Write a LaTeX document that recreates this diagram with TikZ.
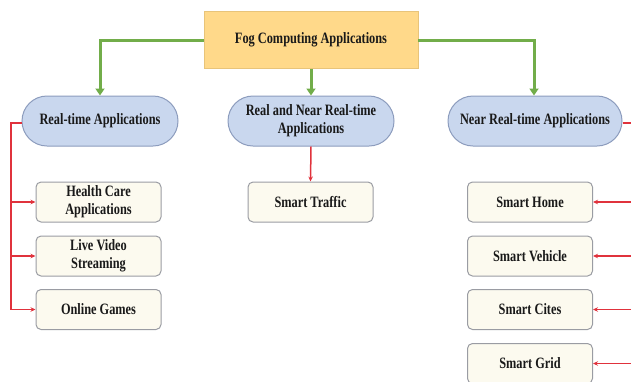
\documentclass[tikz,border=0pt]{standalone}
\usepackage{fontspec}
\setmainfont[FakeStretch=0.78]{Liberation Serif}
\usetikzlibrary{arrows.meta,shapes.misc}
\definecolor{topfill}{HTML}{FFD98A}
\definecolor{topdraw}{HTML}{E8C47A}
\definecolor{midfill}{HTML}{C9D7EE}
\definecolor{middraw}{HTML}{8C9CBD}
\definecolor{leaffill}{HTML}{FCFAEF}
\definecolor{leafdraw}{HTML}{9A9CA3}
\definecolor{gline}{HTML}{72AD4A}
\definecolor{rline}{HTML}{E0323C}
\tikzset{
  lbl/.style={font=\fontsize{15.8}{18}\selectfont\bfseries, align=center, text=black!90, inner sep=0pt},
  topbox/.style={lbl, draw=topdraw, fill=topfill, line width=0.8pt, minimum width=214pt, minimum height=57pt},
  midbox/.style={lbl, draw=middraw, fill=midfill, line width=1pt, rounded rectangle, minimum height=50pt},
  leafbox/.style={lbl, draw=leafdraw, fill=leaffill, line width=1pt, rounded corners=5pt, minimum width=125pt, minimum height=40pt},
  garrow/.style={draw=gline, line width=3pt, -{Triangle[length=7pt,width=9pt]}},
  rarrow/.style={draw=rline, line width=1.5pt, -{Stealth[length=5pt,width=4.5pt]}},
  rline/.style={draw=rline, line width=1.5pt},
}
\begin{document}
\begin{tikzpicture}[x=1pt,y=-1pt]
\useasboundingbox (0,0) rectangle (631,381);
\clip (0,0) rectangle (631,381);
\node[topbox] (top) at (311,40) {Fog Computing Applications};
\node[midbox, minimum width=156pt] (rt) at (100,121) {Real-time Applications};
\node[midbox, minimum width=166pt] (rnrt) at (311,121) {Real and Near Real-time\\Applications};
\node[midbox, minimum width=174pt] (nrt) at (535,121) {Near Real-time Applications};

\node[leafbox] (hc) at (98.5,202) {Health Care\\Applications};
\node[leafbox] (lv) at (98.5,256) {Live Video\\Streaming};
\node[leafbox] (og) at (98.5,309.5) {Online Games};
\node[leafbox] (st) at (310.5,202) {Smart Traffic};
\node[leafbox] (sh) at (530,202) {Smart Home};
\node[leafbox] (sv) at (530,256) {Smart Vehicle};
\node[leafbox] (sc) at (530,309.5) {Smart Cites};
\node[leafbox] (sg) at (530,363.5) {Smart Grid};

\coordinate (gl) at (100,40);
\coordinate (gr) at (534,40);
\draw[garrow] (top.west |- gl) -- (gl) -- (rt.north -| gl);
\draw[garrow] (top.south) -- (rnrt.north);
\draw[garrow] (top.east |- gr) -- (gr) -- (nrt.north -| gr);

\coordinate (lv0) at (11,123);
\draw[rline] (rt.west |- lv0) -- (lv0) -- (11 ,309.5);
\draw[rarrow] (11,202) -- (hc.west);
\draw[rarrow] (11,256) -- (lv.west);
\draw[rarrow] (11,309.5) -- (og.west);
\draw[rarrow] (rnrt.south) -- (st.north);

\coordinate (rv0) at (645,123);
\draw[rline] (nrt.east |- rv0) -- (rv0) -- (645,363.5);
\draw[rarrow] (645,202) -- (sh.east);
\draw[rarrow] (645,256) -- (sv.east);
\draw[rarrow] (645,309.5) -- (sc.east);
\draw[rarrow] (645,363.5) -- (sg.east);
\end{tikzpicture}
\end{document}
